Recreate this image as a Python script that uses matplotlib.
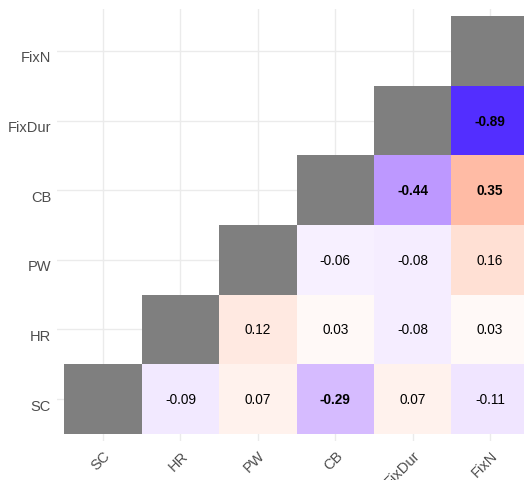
import numpy as np
import matplotlib.pyplot as plt
from matplotlib.colors import ListedColormap
from matplotlib import transforms

plt.rcParams['font.family'] = ['Liberation Sans', 'DejaVu Sans']

labels = ["SC", "HR", "PW", "CB", "FixDur", "FixN"]
# correlations of each variable with the ones listed after it
sc_row = [-0.09, 0.07, -0.29, 0.07, -0.11]
hr_row = [0.12, 0.03, -0.08, 0.03]
pw_row = [-0.06, -0.08, 0.16]
cb_row = [-0.44, 0.35]
fixdur_row = [-0.89]
rows = [sc_row, hr_row, pw_row, cb_row, fixdur_row, []]

n = len(labels)
R = np.full((n, n), np.nan)
for i, vals in enumerate(rows):
    for k, v in enumerate(vals):
        R[i, i + 1 + k] = v


# white -> blue / white -> red, interpolated in Lab space
M = np.array([[0.4124564, 0.3575761, 0.1804375],
              [0.2126729, 0.7151522, 0.0721750],
              [0.0193339, 0.1191920, 0.9503041]])
WP = np.array([0.95047, 1.0, 1.08883])
d = 6 / 29

def to_lab(rgb):
    c = np.asarray(rgb, float)
    lin = np.where(c <= 0.04045, c / 12.92, ((c + 0.055) / 1.055) ** 2.4)
    xyz = M @ lin / WP
    f = np.where(xyz > d ** 3, np.cbrt(xyz), xyz / (3 * d * d) + 4 / 29)
    return np.array([116 * f[1] - 16, 500 * (f[0] - f[1]), 200 * (f[1] - f[2])])

def from_lab(lab):
    L, a, b = lab
    fy = (L + 16) / 116
    f = np.array([fy + a / 500, fy, fy - b / 200])
    xyz = np.where(f > d, f ** 3, 3 * d * d * (f - 4 / 29)) * WP
    lin = np.linalg.solve(M, xyz)
    c = np.where(lin <= 0.0031308, 12.92 * lin, 1.055 * np.clip(lin, 0, None) ** (1 / 2.4) - 0.055)
    return np.clip(c, 0, 1)

lab_w, lab_b, lab_r = to_lab([1, 1, 1]), to_lab([0, 0, 1]), to_lab([1, 0, 0])
cols = []
for v in np.linspace(-1, 1, 257):
    end = lab_b if v < 0 else lab_r
    cols.append(from_lab(lab_w + abs(v) * (end - lab_w)))
cmap = ListedColormap(cols)

fig = plt.figure(figsize=(5.24, 4.81), dpi=100)
ax = fig.add_axes([56.6 / 524, 39.2 / 481, 479.8 / 524, 431.6 / 481])

edges = np.arange(0.5, n + 1, 1)
ax.pcolormesh(edges, edges, np.ma.masked_invalid(R), cmap=cmap, vmin=-1, vmax=1,
              edgecolors='none')
diag = np.ma.masked_where(~np.eye(n, dtype=bool), np.ones((n, n)))
ax.pcolormesh(edges, edges, diag, cmap=ListedColormap(['#7F7F7F']),
              edgecolors='none')

for i in range(n):
    for j in range(n):
        if not np.isnan(R[i, j]):
            ax.text(j + 1, i + 1, f"{R[i, j]:.2f}", ha='center', va='center',
                    fontsize=9.8, color='black',
                    fontweight='bold' if abs(R[i, j]) > 0.2 else 'normal')

ax.set_xlim(0.4, n + 0.6)
ax.set_ylim(0.4, n + 0.6)
ax.set_xticks(range(1, n + 1), labels=labels, rotation=45, ha='right', va='top')
ax.set_yticks(range(1, n + 1), labels=labels)
ax.tick_params(length=0, labelsize=10.5, labelcolor='#4D4D4D')
ax.tick_params(axis='y', pad=4)
ax.tick_params(axis='x', pad=5)
xshift = transforms.ScaledTranslation(10 / 100, 0, fig.dpi_scale_trans)
for lbl in ax.get_xticklabels():
    lbl.set_transform(lbl.get_transform() + xshift)
yshift = transforms.ScaledTranslation(0, -5 / 100, fig.dpi_scale_trans)
for lbl in ax.get_yticklabels():
    lbl.set_transform(lbl.get_transform() + yshift)

ax.grid(color='#EBEBEB', linewidth=1)
ax.set_axisbelow(True)
for s in ax.spines.values():
    s.set_visible(False)

fig.savefig('out.png', dpi=100)
